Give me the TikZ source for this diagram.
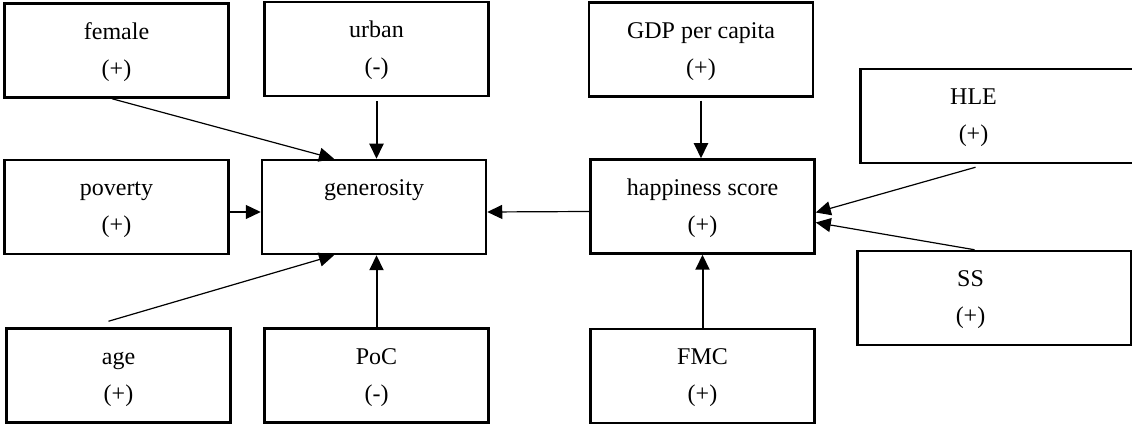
\documentclass[tikz,border=0pt]{standalone}
\usepackage{fontspec}
\setmainfont{Liberation Serif}
\usepackage{tikz}
\usetikzlibrary{arrows.meta}
\newcommand{\varlabel}[2]{\begin{tabular}{@{}c@{}}#1\\#2\end{tabular}}

\begin{document}
\begin{tikzpicture}[->,>={Triangle[length=15pt,width=14pt]},x=1pt,y=1pt]
    \tikzstyle{var}=[draw=black, rectangle, line width=2.5pt, minimum width=224pt, minimum height=94pt, font=\fontsize{24pt}{37pt}\selectfont, text=black]
    \tikzstyle{wide}=[style=var, minimum width=274pt]
    \tikzstyle{thin}=[line width=1.2pt]
    \tikzstyle{thick}=[line width=2pt]
    \useasboundingbox (0,0) rectangle (1132,425);

    \node[var]  (female) at (116.5,374.5) {\varlabel{female}{(+)}};
    \node[var]  (urban)  at (376.5,376)   {\varlabel{urban}{(-)}};
    \node[var]  (gdp)    at (701,375.5)   {\varlabel{GDP per capita}{(+)}};
    \node[wide] (hle)    at (997.5,309)   {\varlabel{HLE}{(+)}\makebox[48pt]{}};
    \node[var]  (pov)    at (116.5,218)   {\varlabel{poverty}{(+)}};
    \node[var]  (gen)    at (374,218)     {\varlabel{generosity}{\mbox{}}};
    \node[var]  (hap)    at (702.5,218.5) {\varlabel{happiness score}{(+)}};
    \node[wide] (ss)     at (994.5,127)   {\varlabel{SS}{(+)}\makebox[48pt]{}};
    \node[var]  (age)    at (118.5,49.5)  {\varlabel{age}{(+)}};
    \node[var]  (poc)    at (376.5,49.5)  {\varlabel{PoC}{(-)}};
    \node[var]  (fmc)    at (702.5,49)    {\varlabel{FMC}{(+)}};
    \path
     ([xshift=-4.5pt]female.south) edge[thin] ([xshift=-40pt]gen.north)
     (urban) edge[thick,shorten <=4pt] (urban |- gen.north)
     (gdp) edge[thick,shorten <=3pt] (gdp |- hap.north)
     ([yshift=-5pt]pov.east) edge[thin] ([yshift=-5pt]gen.west)
     ([yshift=-5pt]hap.west) edge[thin] ([yshift=-5pt]gen.east)
     ([xshift=-22pt,yshift=-3pt]hle.south) edge[thin] ([yshift=-6pt]hap.east)
     ([xshift=-20pt]ss.north) edge[thin] ([yshift=-16pt]hap.east)
     ([xshift=-10pt,yshift=6pt]age.north) edge[thin] ([xshift=-40pt]gen.south)
     (poc) edge[thick] (poc |- gen.south)
     (fmc) edge[thick] (fmc |- hap.south)
     ;
\end{tikzpicture}
\end{document}
